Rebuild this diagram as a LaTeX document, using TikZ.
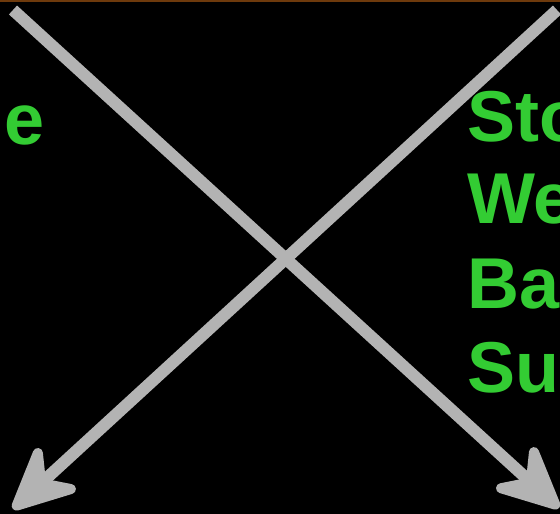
\documentclass[tikz,border=0pt]{standalone}
\usepackage{fontspec}
\setmainfont{Liberation Sans}
\usetikzlibrary{arrows.meta}
\definecolor{bggray}{HTML}{B3B3B3}
\definecolor{txtgreen}{HTML}{33CC33}
\definecolor{topbrown}{HTML}{6E3A0C}
\tikzset{
  crossline/.style={draw=bggray, line width=12pt, -{Stealth[length=78pt,width=74pt,inset=27pt,round,line width=10pt]}},
  bigtext/.style={text=txtgreen, inner sep=0pt, anchor=base west, font=\fontsize{72}{84}\selectfont\bfseries}
}
\begin{document}
\begin{tikzpicture}[x=1pt,y=-1pt]
\useasboundingbox (0,0) rectangle (560,514);
\fill[black] (0,0) rectangle (560,514);
\clip (0,0) rectangle (560,514);
\fill[topbrown] (0,0) rectangle (560,2);
\coordinate (s1) at (13,10);
\coordinate (e1) at (559,508);
\coordinate (s2) at (557,10);
\coordinate (e2) at (13,509);
\draw[crossline] (s1) -- (e1);
\draw[crossline] (s2) -- (e2);
\node[bigtext] (le) at (4.5,144) {e};
\node[bigtext] (t1) at (467,141) {Sto};
\node[bigtext] (t2) at (467,223) {We};
\node[bigtext] (t3) at (467,308) {Ba};
\node[bigtext] (t4) at (467,392) {Su};
\end{tikzpicture}
\end{document}
